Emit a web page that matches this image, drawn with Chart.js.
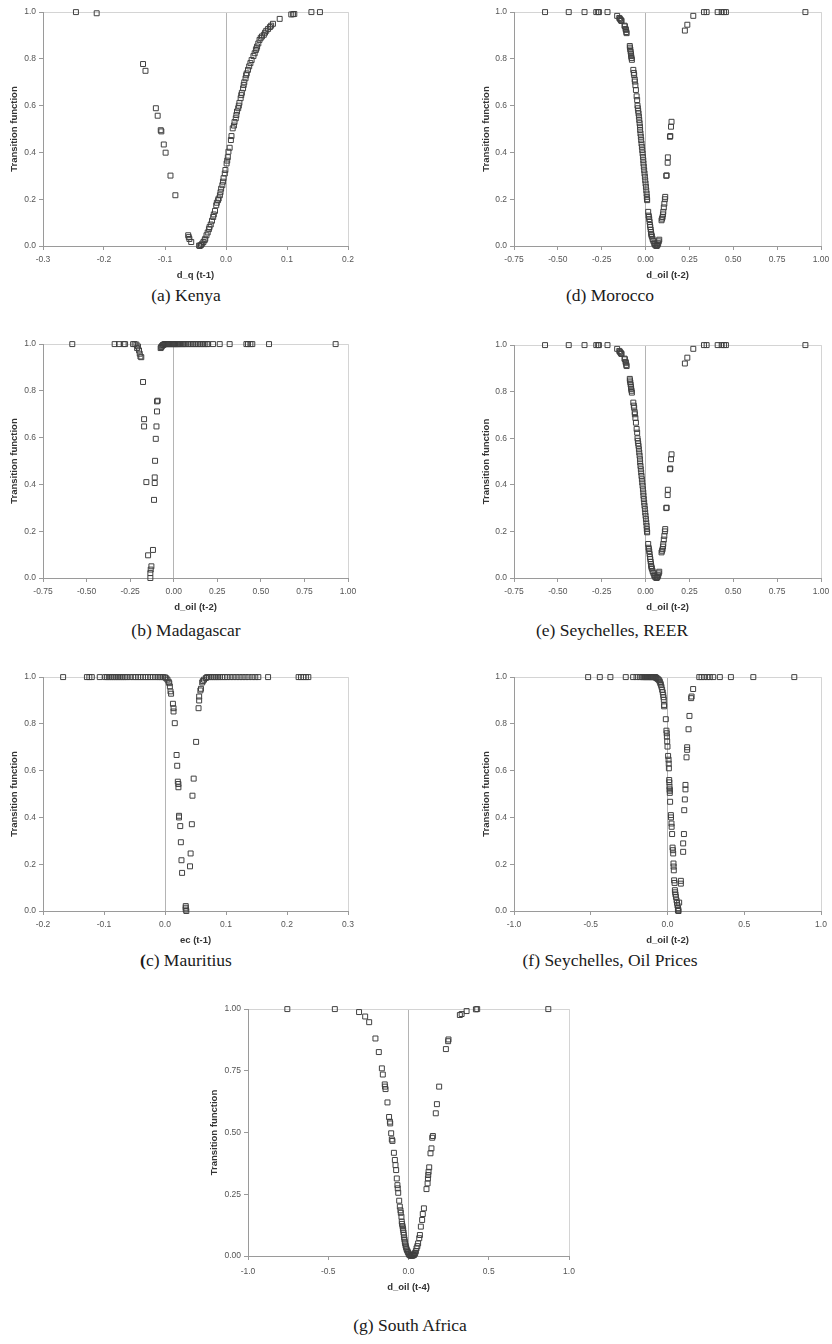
<!DOCTYPE html>
<html>
<head>
<meta charset="utf-8">
<script src="https://cdn.jsdelivr.net/npm/chart.js@4.4.1/dist/chart.umd.min.js"></script>
<style>
  html, body { margin:0; padding:0; background:#fff; }
  body { position:relative; width:832px; height:1344px; overflow:hidden; }
  canvas { position:absolute; }
  .cap { position:absolute; font-family:"Liberation Serif","Times New Roman",serif; font-size:17.5px; color:#1a1a1a; white-space:nowrap; transform:translateX(-50%); line-height:20px; }
</style>
</head>
<body>
<div class="cap" style="left:186px;top:285px">(a) Kenya</div>
<div class="cap" style="left:610px;top:285px">(d) Morocco</div>
<div class="cap" style="left:186px;top:620px">(b) Madagascar</div>
<div class="cap" style="left:612px;top:620px">(e) Seychelles, REER</div>
<div class="cap" style="left:186px;top:950px"><b>(</b>c) Mauritius</div>
<div class="cap" style="left:610px;top:950px">(f) Seychelles, Oil Prices</div>
<div class="cap" style="left:410px;top:1315px">(g) South Africa</div>
<script>
// ---------------- DATA ----------------
const yTicks10 = [0, 0.2, 0.4, 0.6, 0.8, 1.0];
const yTicks25 = [0, 0.25, 0.5, 0.75, 1.0];

// (a) Kenya
const kenyaXTicks = [-0.3, -0.2, -0.1, 0.0, 0.1, 0.2];
const kenya_x = [-0.246,-0.212,-0.136,-0.132,-0.115,-0.112,-0.107,-0.106,-0.102,-0.099,-0.091,-0.083,
 -0.062,-0.061,-0.060,-0.057,-0.044,-0.043,-0.041,-0.039,-0.037,-0.035,-0.034,-0.032,-0.030,-0.028,-0.027,-0.025,
 -0.023,-0.021,-0.020,-0.018,-0.016,-0.015,-0.013,-0.012,-0.010,-0.009,-0.008,-0.006,-0.005,-0.004,-0.002,-0.001,
 0.001,0.002,0.003,0.004,0.006,0.008,0.009,0.011,0.013,0.014,0.016,0.017,0.018,0.020,0.021,0.022,0.024,0.025,0.026,
 0.028,0.029,0.030,0.032,0.033,0.034,0.036,0.038,0.040,0.042,0.045,0.047,0.049,0.050,0.051,0.053,0.055,0.057,0.059,
 0.062,0.064,0.066,0.069,0.072,0.074,0.077,0.088,0.107,0.110,0.112,0.140,0.154];
const kenya_y = [1.000,0.995,0.778,0.749,0.589,0.557,0.495,0.490,0.434,0.399,0.301,0.217,
 0.046,0.038,0.030,0.017,0.002,0.000,0.004,0.010,0.017,0.025,0.031,0.046,0.058,0.072,0.081,0.092,
 0.108,0.124,0.135,0.150,0.174,0.185,0.196,0.203,0.217,0.230,0.245,0.260,0.275,0.290,0.310,0.325,
 0.353,0.365,0.380,0.403,0.420,0.453,0.470,0.503,0.515,0.530,0.546,0.560,0.575,0.589,0.600,0.612,0.632,0.645,0.655,
 0.674,0.688,0.700,0.717,0.730,0.738,0.753,0.768,0.782,0.795,0.812,0.824,0.838,0.845,0.853,0.866,0.881,0.890,0.896,
 0.903,0.912,0.920,0.928,0.936,0.942,0.950,0.971,0.990,0.991,0.992,1.000,1.000];

// (d) Morocco and (e) Seychelles, REER
const oilXTicks = [-0.75, -0.50, -0.25, 0.00, 0.25, 0.50, 0.75, 1.00];
const morocco_x = [-0.573,-0.438,-0.348,-0.281,-0.270,-0.266,-0.217,
 -0.162,-0.150,-0.146,-0.142,-0.139,-0.137,-0.120,-0.118,-0.114,-0.112,-0.110,-0.108,-0.090,-0.089,-0.087,-0.085,
 -0.083,-0.082,-0.080,-0.078,-0.070,-0.067,-0.065,-0.062,-0.061,-0.058,-0.055,-0.051,-0.048,-0.046,-0.044,-0.042,
 -0.040,-0.038,-0.036,-0.034,-0.032,-0.031,-0.029,-0.027,-0.025,-0.023,-0.021,-0.019,-0.017,-0.015,-0.013,-0.012,
 -0.010,-0.008,-0.006,-0.004,-0.002,0.000,0.002,0.004,0.006,0.007,0.008,0.009,
 0.015,0.017,0.019,0.021,0.023,0.025,0.027,0.029,0.031,0.032,0.034,0.036,0.040,0.044,0.049,0.053,0.058,0.063,0.066,
 0.069,0.072,0.075,0.078,
 0.091,0.094,0.097,0.099,0.101,0.104,0.107,0.110,0.112,0.118,0.120,0.126,0.127,0.139,0.141,0.145,0.148,
 0.224,0.238,0.272,0.333,0.348,0.411,0.434,0.447,0.458,0.911];
const morocco_y = [1,1,1,1,1,1,1,
 0.984,0.975,0.971,0.967,0.964,0.962,0.942,0.939,0.928,0.924,0.915,0.910,0.855,0.848,0.840,0.830,
 0.820,0.812,0.804,0.796,0.753,0.740,0.731,0.712,0.703,0.687,0.667,0.640,0.624,0.600,0.589,0.578,
 0.567,0.553,0.539,0.525,0.510,0.496,0.481,0.467,0.453,0.438,0.424,0.410,0.396,0.381,0.367,0.353,
 0.339,0.324,0.310,0.296,0.281,0.267,0.253,0.238,0.224,0.210,0.200,0.196,
 0.146,0.130,0.124,0.115,0.103,0.090,0.081,0.070,0.060,0.052,0.046,0.040,0.030,0.022,0.012,0.006,0.002,0.000,0.003,
 0.006,0.012,0.020,0.027,
 0.110,0.117,0.124,0.135,0.146,0.165,0.181,0.200,0.210,0.300,0.302,0.356,0.379,0.467,0.470,0.510,0.531,
 0.921,0.946,0.984,1,1,1,1,1,1,1];
const seyReer_x = morocco_x.slice();
const seyReer_y = morocco_y.slice();

// (b) Madagascar
const madagascar_x = [-0.582,-0.339,-0.314,-0.287,-0.279,-0.233,-0.224,-0.214,
 -0.210,-0.205,-0.199,-0.195,-0.191,-0.186,-0.176,-0.170,-0.170,-0.157,-0.147,-0.119,-0.128,-0.132,-0.134,-0.134,
 -0.096,-0.092,-0.096,-0.099,-0.103,-0.107,-0.109,-0.109,-0.113,
 -0.075,-0.072,-0.069,-0.065,-0.061,-0.057,
 -0.052,-0.047,-0.042,-0.037,-0.033,-0.028,-0.023,-0.018,-0.013,-0.008,-0.003,0.002,0.006,0.011,0.016,0.021,0.025,
 0.030,0.036,0.044,0.050,0.057,0.063,0.072,0.082,0.090,0.101,0.110,0.120,0.130,0.140,0.150,0.159,0.170,0.178,0.190,
 0.197,0.226,0.264,0.321,0.417,0.426,0.440,0.451,0.547,0.929];
const madagascar_y = [1,1,1,1,1,1,1,0.998,
 0.983,0.990,0.973,0.959,0.947,0.944,0.838,0.679,0.648,0.410,0.097,0.120,0.050,0.036,0.021,0.000,
 0.755,0.758,0.712,0.648,0.595,0.501,0.430,0.406,0.334,
 0.983,0.987,0.990,0.994,0.996,0.998,
 1,1,1,1,1,1,1,1,1,1,1,1,1,1,1,1,1,
 1,1,1,1,1,1,1,1,1,1,1,1,1,1,1,1,1,1,1,
 1,1,1,1,1,1,1,1,1,1];

// (c) Mauritius
const mauritiusXTicks = [-0.2, -0.1, 0.0, 0.1, 0.2, 0.3];
const mauritius_x = [-0.167,-0.128,-0.124,-0.120,-0.107,
 -0.098,-0.095,-0.092,-0.089,-0.086,-0.083,-0.080,-0.077,-0.074,-0.071,-0.068,-0.065,-0.062,-0.057,
 -0.052,-0.048,-0.044,-0.040,-0.036,-0.032,-0.028,-0.024,-0.020,-0.016,-0.012,-0.009,-0.006,-0.003,
 0.000,0.002,0.004,0.006,0.007,0.008,0.009,0.010,0.013,0.014,0.014,0.016,0.019,0.020,0.021,0.022,0.022,0.023,0.023,
 0.025,0.026,0.027,0.028,0.034,0.034,0.034,0.035,
 0.041,0.042,0.044,0.045,0.047,0.051,0.055,0.056,0.056,0.058,0.059,0.061,0.062,0.064,0.067,
 0.069,0.072,0.075,0.078,0.081,0.084,0.087,0.090,0.094,0.098,0.102,0.107,0.112,0.117,0.122,0.127,0.132,0.137,0.143,
 0.148,0.153,0.169,0.219,0.223,0.227,0.231,0.235];
const mauritius_y = [1,1,1,1,1,
 1,1,1,1,1,1,1,1,1,1,1,1,1,1,
 1,1,1,1,1,1,1,1,1,1,1,1,1,1,
 0.999,0.995,0.989,0.980,0.974,0.960,0.939,0.929,0.886,0.867,0.853,0.803,0.667,0.621,0.553,0.543,0.529,0.407,0.400,
 0.363,0.294,0.217,0.163,0.021,0.014,0.006,0.000,
 0.191,0.246,0.371,0.493,0.566,0.723,0.867,0.900,0.917,0.943,0.950,0.977,0.983,0.989,0.996,
 1,1,1,1,1,1,1,1,1,1,1,1,1,1,1,1,1,1,1,
 1,1,1,1,1,1,1,1];

// (f) Seychelles, Oil Prices
const oil1XTicks = [-1.0, -0.5, 0.0, 0.5, 1.0];
const seyOil_x = [-0.517,-0.441,-0.372,-0.272,-0.224,-0.202,-0.180,
 -0.165,-0.158,-0.152,-0.146,-0.140,-0.134,-0.128,-0.122,-0.116,-0.110,-0.105,-0.100,-0.095,-0.090,-0.085,-0.080,
 -0.076,-0.072,-0.066,-0.060,-0.054,-0.050,-0.046,-0.043,-0.039,-0.035,-0.031,-0.028,-0.026,-0.024,-0.022,-0.022,
 -0.011,-0.007,-0.005,-0.004,-0.002,0.000,0.004,0.007,0.008,0.009,0.011,0.012,0.013,0.014,0.015,0.015,0.017,0.022,
 0.023,0.026,0.027,0.030,0.033,0.035,0.037,0.039,0.040,0.041,0.043,0.046,0.048,0.050,0.052,0.055,0.059,0.062,0.065,
 0.068,0.070,0.068,0.072,
 0.076,0.087,0.087,0.102,0.102,0.107,0.109,0.113,0.117,0.117,0.124,0.128,0.128,0.137,0.143,0.154,0.157,0.167,
 0.207,0.222,0.239,0.259,0.276,0.298,0.341,0.413,0.559,0.826];
const seyOil_y = [1,1,1,1,1,1,1,
 1,1,1,1,1,1,1,1,1,1,1,1,1,1,1,1,
 0.998,0.996,0.993,0.990,0.986,0.980,0.973,0.967,0.958,0.946,0.935,0.924,0.914,0.903,0.881,0.875,
 0.820,0.771,0.760,0.746,0.725,0.703,0.663,0.647,0.630,0.610,0.560,0.550,0.531,0.520,0.514,0.505,0.467,0.410,
 0.400,0.374,0.360,0.329,0.271,0.260,0.246,0.203,0.190,0.174,0.131,0.120,0.089,0.080,0.071,0.060,0.046,0.035,0.024,
 0.012,0.006,0.002,0.000,
 0.036,0.129,0.117,0.253,0.289,0.329,0.431,0.477,0.520,0.539,0.657,0.689,0.700,0.777,0.834,0.910,0.917,0.949,
 1,1,1,1,1,1,1,1,1,1];

// (g) South Africa
const saXTicks = [-1.0, -0.5, 0.0, 0.5, 1.0];
const safrica_x = [-0.755,-0.459,-0.308,-0.270,-0.245,-0.206,-0.185,-0.166,-0.160,-0.148,-0.146,-0.143,-0.131,-0.121,
 -0.116,-0.114,-0.108,-0.104,-0.100,-0.091,-0.085,-0.081,-0.077,-0.073,-0.069,-0.067,-0.064,-0.058,-0.054,-0.050,
 -0.048,-0.044,-0.042,-0.040,-0.037,-0.035,-0.033,-0.031,-0.029,-0.027,-0.025,-0.023,-0.021,-0.018,-0.015,-0.012,
 -0.008,-0.004,0.000,0.004,0.008,0.013,0.017,0.021,0.026,0.030,0.033,0.036,0.039,0.042,0.046,0.050,0.055,0.060,0.067,
 0.071,0.077,0.085,0.089,0.096,0.112,0.119,0.121,0.123,0.125,0.129,0.137,0.143,0.148,0.152,0.170,0.177,0.191,0.233,
 0.247,0.249,0.320,0.331,0.362,0.420,0.428,0.871];
const safrica_y = [1.000,1.000,0.988,0.970,0.947,0.881,0.826,0.760,0.735,0.695,0.686,0.676,0.622,0.563,
 0.544,0.537,0.497,0.472,0.466,0.418,0.389,0.368,0.348,0.314,0.287,0.274,0.256,0.224,0.200,0.185,
 0.175,0.159,0.139,0.130,0.121,0.112,0.105,0.095,0.085,0.075,0.067,0.058,0.051,0.042,0.035,0.028,
 0.022,0.016,0.011,0.006,0.003,0.002,0.001,0.001,0.002,0.003,0.004,0.007,0.010,0.013,0.020,0.031,0.040,0.051,0.072,
 0.085,0.119,0.146,0.170,0.193,0.271,0.294,0.314,0.328,0.341,0.359,0.416,0.436,0.479,0.486,0.578,0.615,0.686,0.838,
 0.870,0.877,0.976,0.980,0.992,0.999,1.000,1.000];

// ---------------- DRAWING ----------------
function fmt(d){ return v => Number(v).toFixed(d); }

function panel(box, xs, ys, xTicks, yTicks, xDec, yDec, xTitle) {
  const padT = 8, padR = 14;
  const cv = document.createElement('canvas');
  const w = (box.R - box.L) + box.yW + padR;
  const h = (box.B - box.T) + padT + box.xH;
  cv.width = w; cv.height = h;
  cv.style.left = (box.L - box.yW) + 'px';
  cv.style.top = (box.T - padT) + 'px';
  cv.style.width = w + 'px'; cv.style.height = h + 'px';
  document.body.appendChild(cv);
  const pts = xs.map((x, i) => ({x: x, y: ys[i]}));
  const xMin = xTicks[0], xMax = xTicks[xTicks.length - 1];
  const yMin = yTicks[0], yMax = yTicks[yTicks.length - 1];
  const tickFont = {family: 'Liberation Sans', size: 8.5};
  const titleFont = {family: 'Liberation Sans', size: 9.5, weight: 'bold'};
  new Chart(cv, {
    type: 'scatter',
    data: {datasets: [{
      data: pts, pointStyle: 'rect', pointRadius: 3.5, pointBorderWidth: 1,
      borderColor: '#404040', backgroundColor: 'rgba(0,0,0,0)', clip: false
    }]},
    options: {
      responsive: false, animation: false, devicePixelRatio: 1,
      layout: {padding: {left: 0, top: padT, right: padR, bottom: 0}},
      plugins: {legend: {display: false}, tooltip: {enabled: false}},
      events: [],
      scales: {
        x: {
          type: 'linear', min: xMin, max: xMax,
          afterBuildTicks: s => { s.ticks = xTicks.map(v => ({value: v})); },
          afterFit: s => { s.height = box.xH; },
          border: {display: true, color: '#9a9a9a', width: 1},
          grid: {
            color: c => {
              const v = c.tick ? c.tick.value : NaN;
              if (Math.abs(v) < 1e-9) return '#b4b4b4';
              if (Math.abs(v - xMax) < 1e-9) return '#d4d4d4';
              return 'rgba(0,0,0,0)';
            },
            tickColor: '#9a9a9a', tickLength: 4, lineWidth: 1
          },
          ticks: {font: tickFont, color: '#555', padding: box.xPad, callback: fmt(xDec), maxRotation: 0, autoSkip: false},
          title: {display: true, text: xTitle, font: titleFont, color: '#333', padding: 0}
        },
        y: {
          type: 'linear', min: yMin, max: yMax,
          afterBuildTicks: s => { s.ticks = yTicks.map(v => ({value: v})); },
          afterFit: s => { s.width = box.yW; },
          border: {display: true, color: '#9a9a9a', width: 1},
          grid: {
            color: c => {
              const v = c.tick ? c.tick.value : NaN;
              if (Math.abs(v - yMax) < 1e-9) return '#d4d4d4';
              return 'rgba(0,0,0,0)';
            },
            tickColor: '#9a9a9a', tickLength: 4, lineWidth: 1
          },
          ticks: {font: tickFont, color: '#555', padding: 3, callback: fmt(yDec), autoSkip: false},
          title: {display: true, text: 'Transition function', font: titleFont, color: '#333', padding: 0}
        }
      }
    }
  });
}

panel({L:43, T:12, R:348, B:246, yW:34, xH:35, xPad:5}, kenya_x, kenya_y, kenyaXTicks, yTicks10, 1, 1, 'd_q (t-1)');
panel({L:514, T:12, R:821, B:246, yW:33, xH:35, xPad:5}, morocco_x, morocco_y, oilXTicks, yTicks10, 2, 1, 'd_oil (t-2)');
panel({L:43, T:344, R:348, B:578, yW:34, xH:35, xPad:5}, madagascar_x, madagascar_y, oilXTicks, yTicks10, 2, 1, 'd_oil (t-2)');
panel({L:514, T:345, R:821, B:578, yW:33, xH:35, xPad:5}, seyReer_x, seyReer_y, oilXTicks, yTicks10, 2, 1, 'd_oil (t-2)');
panel({L:43, T:677, R:348, B:911, yW:34, xH:35, xPad:5}, mauritius_x, mauritius_y, mauritiusXTicks, yTicks10, 1, 1, 'ec (t-1)');
panel({L:514, T:677, R:821, B:911, yW:33, xH:35, xPad:5}, seyOil_x, seyOil_y, oil1XTicks, yTicks10, 1, 1, 'd_oil (t-2)');
panel({L:248, T:1009, R:569, B:1256, yW:39, xH:37, xPad:7}, safrica_x, safrica_y, saXTicks, yTicks25, 1, 2, 'd_oil (t-4)');
</script>
</body>
</html>
